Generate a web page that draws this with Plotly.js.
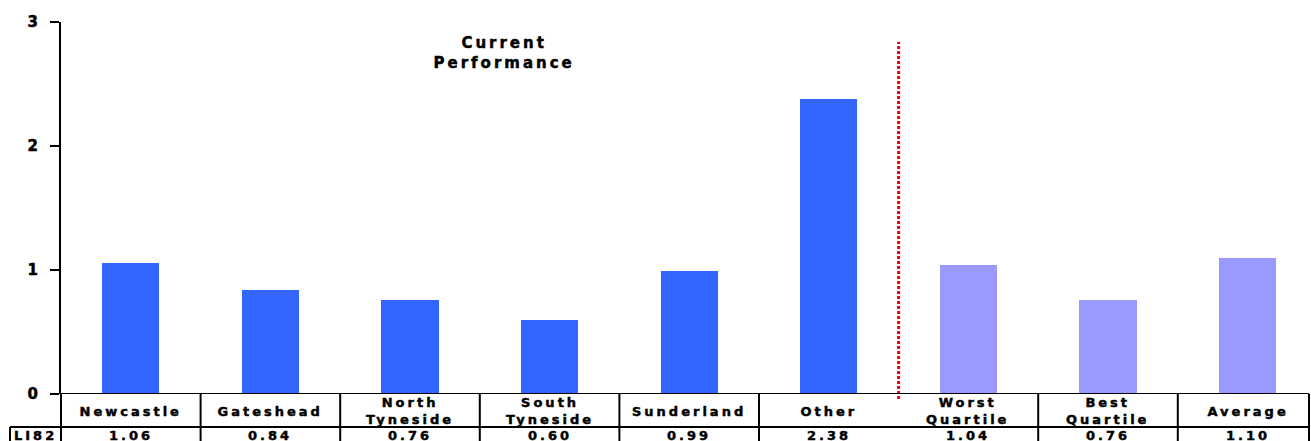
<!DOCTYPE html>
<html>
<head>
<meta charset="utf-8">
<script src="https://cdn.plot.ly/plotly-3.0.1.min.js"></script>
<style>
html,body{margin:0;padding:0;background:#fff;}
#chart{width:1311px;height:441px;}
#chart svg .annotation-text{letter-spacing:3px;stroke:#000;stroke-width:0.45px;}
#chart svg .ytick text{stroke:#000;stroke-width:0.5px;}
</style>
</head>
<body>
<div id="chart"></div>
<script>
// ---- data ----
var categories = ["Newcastle", "Gateshead", "North Tyneside", "South Tyneside", "Sunderland", "Other", "Worst Quartile", "Best Quartile", "Average"];
var headerLabels = ["Newcastle", "Gateshead", "North<br>Tyneside", "South<br>Tyneside", "Sunderland", "Other", "Worst<br>Quartile", "Best<br>Quartile", "Average"];
var values = [1.06, 0.84, 0.76, 0.60, 0.99, 2.38, 1.04, 0.76, 1.10];
var valueLabels = ["1.06", "0.84", "0.76", "0.60", "0.99", "2.38", "1.04", "0.76", "1.10"];
var rowLabel = "LI82";
var titleText = "Current<br>Performance";
var yTicks = [0, 1, 2, 3];

// ---- style ----
var localColor = "#3366FF";
var benchColor = "#9999FF";
var nLocal = 6;
var font = "DejaVu Sans, Arial, sans-serif";
var colWidthPx = 139.6;

var barColors = values.map(function (v, i) { return i < nLocal ? localColor : benchColor; });
var xIdx = categories.map(function (c, i) { return i; });

var trace = {
  type: "bar",
  x: xIdx,
  y: values,
  marker: { color: barColors, line: { width: 0 } },
  width: 0.41,
  hoverinfo: "x+y"
};

// table geometry in paper coords (plot area y: 22..394 px, height 372)
var H = 372;
function py(p) { return (394 - p) / H; }
var W = 1248;
function px(p) { return (p - 61) / W; }

var shapes = [];
var black = "#000";
shapes.push({ type: "line", xref: "paper", yref: "paper", x0: px(10), x1: 1, y0: py(427), y1: py(427), line: { color: black, width: 2 } });
shapes.push({ type: "line", xref: "paper", yref: "paper", x0: 0, x1: 0, y0: 0, y1: py(445), line: { color: black, width: 2 } });
shapes.push({ type: "line", xref: "paper", yref: "paper", x0: 1, x1: 1, y0: 0, y1: py(445), line: { color: black, width: 2 } });
shapes.push({ type: "line", xref: "paper", yref: "paper", x0: px(10), x1: px(10), y0: py(427), y1: py(445), line: { color: black, width: 2 } });
for (var i = 1; i < categories.length; i++) {
  if (i === nLocal) continue;
  shapes.push({ type: "line", xref: "x", yref: "paper", x0: i - 0.5, x1: i - 0.5, y0: 0, y1: py(445), line: { color: black, width: 2 } });
}
shapes.push({ type: "line", xref: "x", yref: "paper", x0: nLocal - 0.5, x1: nLocal - 0.5, y0: py(399), y1: py(42), line: { color: "#FF0000", width: 3, dash: "3px,2px" } });
shapes.push({ type: "line", xref: "paper", yref: "y", x0: 0, x1: 1, y0: 0, y1: 0, line: { color: black, width: 2 } });

var annotations = [];
var tf = { family: font, size: 13, color: black };
for (var j = 0; j < categories.length; j++) {
  annotations.push({ xref: "x", yref: "paper", x: j, y: py(411), text: "<b>" + headerLabels[j] + "</b>", showarrow: false, xanchor: "center", yanchor: "middle", font: tf });
  annotations.push({ xref: "x", yref: "paper", x: j, y: py(436), text: "<b>" + valueLabels[j] + "</b>", showarrow: false, xanchor: "center", yanchor: "middle", font: tf });
}
annotations.push({ xref: "paper", yref: "paper", x: px(35), y: py(436), text: "<b>" + rowLabel + "</b>", showarrow: false, xanchor: "center", yanchor: "middle", font: tf });
annotations.push({ xref: "paper", yref: "paper", x: px(504), y: py(53), text: "<b>" + titleText + "</b>", showarrow: false, xanchor: "center", yanchor: "middle", font: { family: font, size: 15, color: black } });

var layout = {
  width: 1311,
  height: 441,
  margin: { l: 61, r: 2, t: 22, b: 47, pad: 0 },
  paper_bgcolor: "#fff",
  plot_bgcolor: "#fff",
  showlegend: false,
  bargap: 0,
  xaxis: {
    range: [-0.5, -0.5 + W / colWidthPx],
    showticklabels: false,
    ticks: "",
    showgrid: false,
    zeroline: false,
    showline: false,
    fixedrange: true
  },
  yaxis: {
    range: [0, 3],
    tickvals: yTicks,
    ticktext: yTicks.map(function (t) { return "<b>" + t + "</b>"; }),
    ticks: "outside",
    ticklen: 9,
    tickwidth: 2,
    tickcolor: black,
    ticklabelstandoff: 9,
    tickfont: { family: font, size: 15, color: black },
    showgrid: false,
    zeroline: false,
    showline: true,
    linecolor: black,
    linewidth: 2,
    fixedrange: true
  },
  shapes: shapes,
  annotations: annotations
};

Plotly.newPlot("chart", [trace], layout, { staticPlot: true, displayModeBar: false });
</script>
</body>
</html>
